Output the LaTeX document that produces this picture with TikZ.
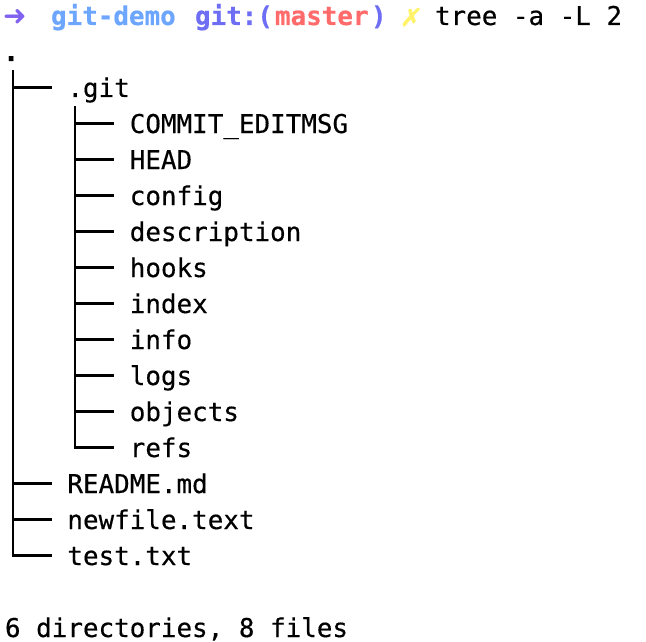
\documentclass[tikz,border=0pt]{standalone}
\usepackage{fontspec}
\newfontfamily\mono[FakeBold=0.4]{DejaVu Sans Mono}
\newfontfamily\dvs{DejaVu Sans}
\newfontfamily\dvsheavy[FakeBold=3,FakeSlant=0.15]{DejaVu Sans}
\definecolor{arrowc}{HTML}{8061F0}
\definecolor{dirc}{HTML}{6CA6FF}
\definecolor{gitc}{HTML}{6E6EF5}
\definecolor{branchc}{HTML}{FF6B6B}
\definecolor{dirtyc}{HTML}{FFF36B}
\begin{document}
\begin{tikzpicture}[x=1pt,y=-1pt,
  txt/.style={anchor=base west,inner sep=0pt,outer sep=0pt,font=\mono\fontsize{25.9}{36}\selectfont},
  btxt/.style={txt,font=\mono\bfseries\fontsize{25.9}{36}\selectfont},
  treeline/.style={line width=2.2pt,black}]
\useasboundingbox[fill=white] (0,0) rectangle (646,642);
% prompt line
\node[txt,font=\dvs\bfseries\fontsize{28}{36}\selectfont,text=arrowc] (arr) at (3,26) {➜};
\node[btxt,text=dirc] (dir) at (51,25) {git-demo};
\node[btxt,text=gitc] (gitp) at (195,25) {git:(};
\node[btxt,text=branchc] (br) at (275,25) {master};
\node[btxt,text=gitc] (brc) at (371,25) {)};
\node[txt,font=\dvsheavy\fontsize{24}{36}\selectfont,text=dirtyc] (dirty) at (400,26) {✗};
\node[txt] (cmd) at (435,25) {tree -a -L 2};
% tree
\node[txt,font=\mono\bfseries\fontsize{27}{36}\selectfont] (root) at (3,61) {.};
\node[txt] (git) at (67.4,97) {.git};
\node[txt] (commit) at (129.8,133) {COMMIT\_EDITMSG};
\node[txt] (head) at (129.8,169) {HEAD};
\node[txt] (config) at (129.8,205) {config};
\node[txt] (descr) at (129.8,241) {description};
\node[txt] (hooks) at (129.8,277) {hooks};
\node[txt] (index) at (129.8,313) {index};
\node[txt] (info) at (129.8,349) {info};
\node[txt] (logs) at (129.8,385) {logs};
\node[txt] (objects) at (129.8,421) {objects};
\node[txt] (refs) at (129.8,457) {refs};
\node[txt] (readme) at (67.4,493) {README.md};
\node[txt] (newfile) at (67.4,529) {newfile.text};
\node[txt] (test) at (67.4,565) {test.txt};
\node[txt] (summary) at (5,637) {6 directories, 8 files};
% level 1 connectors
\coordinate (v1top) at (12.8,70);
\foreach \n/\b in {git/97,readme/493,newfile/529,test/565}{
  \coordinate (e1-\n) at (51.8,\b-9.5);
  \coordinate (s1-\n) at (12.8,\b-9.5);
}
\draw[treeline] (v1top) |- (e1-test);
\foreach \n in {git,readme,newfile}{\draw[treeline] (s1-\n) -- (e1-\n);}
% level 2 connectors
\coordinate (v2top) at (75.2,106);
\foreach \n/\b in {commit/133,head/169,config/205,descr/241,hooks/277,index/313,info/349,logs/385,objects/421,refs/457}{
  \coordinate (e2-\n) at (114.2,\b-9.5);
  \coordinate (s2-\n) at (75.2,\b-9.5);
}
\draw[treeline] (v2top) |- (e2-refs);
\foreach \n in {commit,head,config,descr,hooks,index,info,logs,objects}{\draw[treeline] (s2-\n) -- (e2-\n);}
\end{tikzpicture}
\end{document}
